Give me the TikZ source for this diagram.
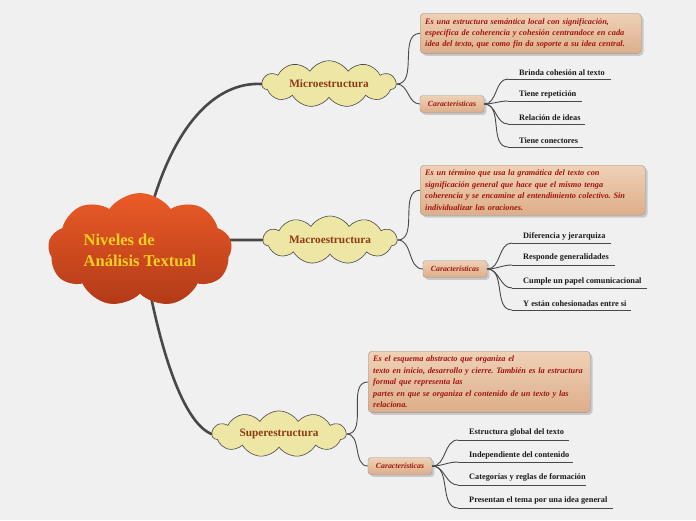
\documentclass[tikz,border=0pt]{standalone}
\usepackage{fontspec}
\setmainfont{Liberation Serif}
\usetikzlibrary{shapes.symbols,shadows,calc}
\frenchspacing
\definecolor{bg}{HTML}{F0F0F0}
\definecolor{linec}{HTML}{484848}
\definecolor{descred}{HTML}{A0140F}
\definecolor{cloudtxt}{HTML}{8E3A12}
\definecolor{cloudfill}{HTML}{EDE6A4}
\definecolor{peachtop}{HTML}{EFD1B6}
\definecolor{peachbot}{HTML}{DDAE8A}
\definecolor{roottop}{HTML}{EA5B27}
\definecolor{rootbot}{HTML}{B23A17}
\definecolor{rootfg}{HTML}{F8D020}
\tikzset{
  maincloud/.style={cloud, cloud puffs=9, cloud puff arc=110, aspect=1.75,
    minimum width=184pt, minimum height=104pt, inner sep=0pt,
    top color=roottop, bottom color=rootbot, draw=none,
    text=rootfg, align=left, font=\fontsize{16.5}{21}\selectfont\bfseries},
  subcloud/.style={cloud, cloud puffs=11, cloud puff arc=115, aspect=3.7,
    minimum width=134pt, minimum height=37pt, inner sep=0pt,
    fill=cloudfill, draw=linec, line width=0.6pt,
    text=cloudtxt, font=\fontsize{11.3}{12}\selectfont\bfseries},
  descbox/.style={anchor=north west, rounded corners=4pt, draw=black!40,
    top color=peachtop, bottom color=peachbot, drop shadow={opacity=0.35},
    text=descred, align=left, inner sep=5pt,
    font=\fontsize{8.3}{11.4}\selectfont\bfseries\itshape},
  charbox/.style={rounded corners=3pt, draw=black!40,
    top color=peachtop, bottom color=peachbot, drop shadow={opacity=0.35},
    text=descred, minimum width=64pt, minimum height=17pt, inner sep=1pt,
    font=\fontsize{7.8}{9}\selectfont\bfseries\itshape},
  leaf/.style={anchor=south west, inner xsep=0pt, inner ysep=3pt, xshift=11pt,
    font=\fontsize{8.3}{9}\selectfont\bfseries, text=black!90},
  uline/.style={draw=linec, line width=0.8pt},
  conn/.style={draw=linec, line width=0.9pt},
  trunk/.style={draw=linec, line width=2.6pt, line cap=round}
}
\begin{document}
\begin{tikzpicture}[x=1pt,y=-1pt]
\fill[bg] (0,0) rectangle (696,520);
\useasboundingbox (0,0) rectangle (696,520);

% trunks
\coordinate (r1) at (152,205);
\coordinate (r2) at (228,240);
\coordinate (r3) at (150,292);
\node[subcloud] (micro) at (329,84) {Microestructura};
\node[subcloud] (macro) at (330,240) {Macroestructura};
\node[subcloud] (super) at (279,434) {Superestructura};
\draw[trunk] (r1) .. controls (180,110) and (225,82) .. (micro.west);
\draw[trunk] (r2) -- (macro.west);
\draw[trunk] (r3) .. controls (168,380) and (190,425) .. (super.west);

\node[maincloud] (root) at (140,250) {Niveles de\\Análisis Textual};

% Micro
\node[descbox, text width=211pt] (d1) at (420,13)
 {Es una estructura semántica local con significación,\\
  especifica de coherencia y cohesión centrandoce en cada\\
  idea del texto, que como fin da soporte a su idea central.};
\node[charbox] (c1) at (452,104) {Características};
\draw[conn] (micro.east) to[out=0,in=180] (d1.west);
\draw[conn] (micro.east) to[out=0,in=180] (c1.west);
\coordinate (s11) at (508,79);
\coordinate (s12) at (508,101);
\coordinate (s13) at (508,124);
\coordinate (s14) at (508,147);
\node[leaf] (l11) at (s11) {Brinda cohesión al texto};
\node[leaf] (l12) at (s12) {Tiene repetición};
\node[leaf] (l13) at (s13) {Relación de ideas};
\node[leaf] (l14) at (s14) {Tiene conectores};
\draw[uline] (s11) -- ++(103,0);
\draw[uline] (s12) -- ++(74,0);
\draw[uline] (s13) -- ++(77,0);
\draw[uline] (s14) -- ++(75,0);
\foreach \n in {s11,s12,s13,s14}{
  \draw[conn] (c1.east) to[out=0,in=180] (\n);
}

% Macro
\node[descbox, text width=215pt] (d2) at (420,165)
 {Es un término que usa la gramática del texto con\\
  significación general que hace que el mismo tenga\\
  coherencia y se encamine al entendimiento colectivo. Sin\\
  individualizar las oraciones.};
\node[charbox] (c2) at (455,269) {Características};
\draw[conn] (macro.east) to[out=0,in=180] (d2.west);
\draw[conn] (macro.east) to[out=0,in=180] (c2.west);
\coordinate (s21) at (512,243);
\coordinate (s22) at (512,265);
\coordinate (s23) at (512,288);
\coordinate (s24) at (512,310);
\node[leaf] (l21) at (s21) {Diferencia y jerarquiza};
\node[leaf] (l22) at (s22) {Responde generalidades};
\node[leaf] (l23) at (s23) {Cumple un papel comunicacional};
\node[leaf] (l24) at (s24) {Y están cohesionadas entre si};
\draw[uline] (s21) -- ++(99,0);
\draw[uline] (s22) -- ++(103,0);
\draw[uline] (s23) -- ++(135,0);
\draw[uline] (s24) -- ++(119,0);
\foreach \n in {s21,s22,s23,s24}{
  \draw[conn] (c2.east) to[out=0,in=180] (\n);
}

% Super
\node[descbox, text width=212pt] (d3) at (368,351)
 {Es el esquema abstracto que organiza el\\
  texto en inicio, desarrollo y cierre. También es la estructura\\
  formal que representa las\\
  partes en que se organiza el contenido de un texto y las\\
  relaciona.};
\node[charbox] (c3) at (400,466) {Características};
\draw[conn] (super.east) to[out=0,in=180] (d3.west);
\draw[conn] (super.east) to[out=0,in=180] (c3.west);
\coordinate (s31) at (458,440);
\coordinate (s32) at (458,462);
\coordinate (s33) at (458,485);
\coordinate (s34) at (458,508);
\node[leaf] (l31) at (s31) {Estructura global del texto};
\node[leaf] (l32) at (s32) {Independiente del contenido};
\node[leaf] (l33) at (s33) {Categorías y reglas de formación};
\node[leaf] (l34) at (s34) {Presentan el tema por una idea general};
\draw[uline] (s31) -- ++(111,0);
\draw[uline] (s32) -- ++(115,0);
\draw[uline] (s33) -- ++(128,0);
\draw[uline] (s34) -- ++(155,0);
\foreach \n in {s31,s32,s33,s34}{
  \draw[conn] (c3.east) to[out=0,in=180] (\n);
}
\end{tikzpicture}
\end{document}
